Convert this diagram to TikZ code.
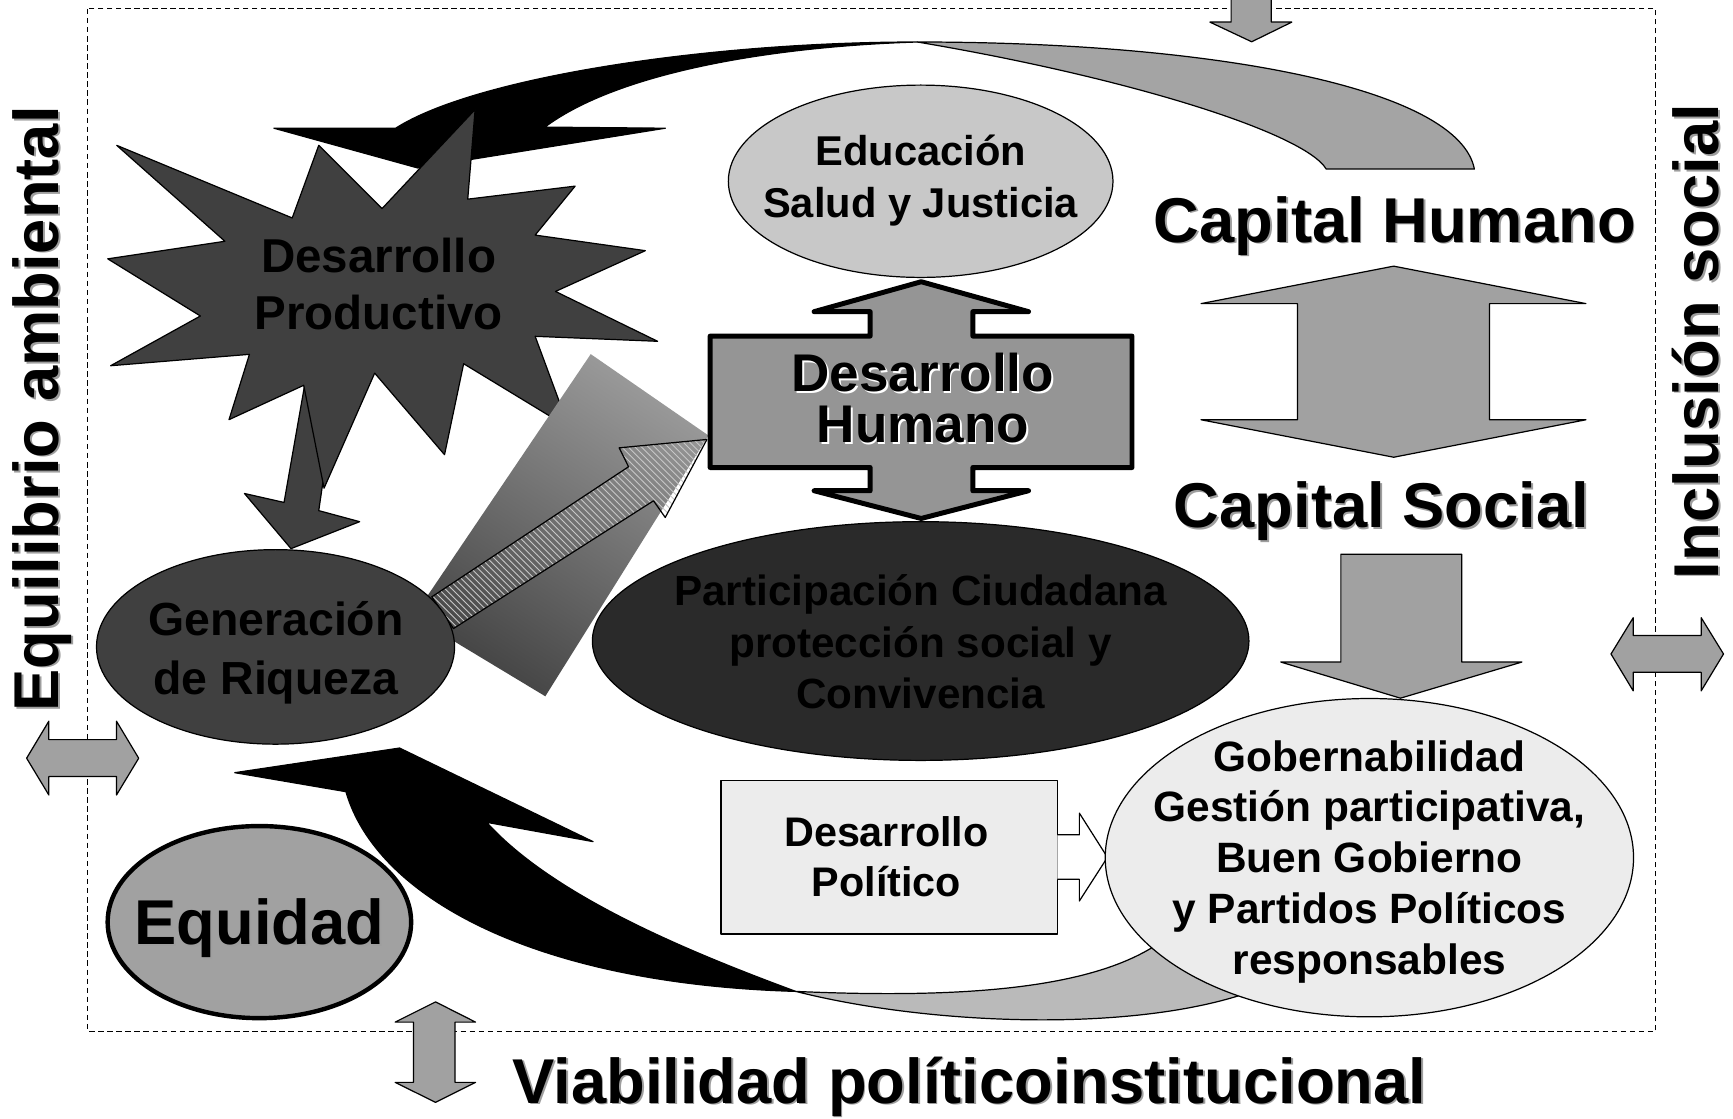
\documentclass[tikz,border=0pt]{standalone}
\usepackage{fontspec}
\setmainfont{Liberation Sans}
\usetikzlibrary{shapes.geometric,patterns}
\definecolor{stardark}{gray}{0.25}
\definecolor{partdark}{gray}{0.165}
\definecolor{edugray}{gray}{0.785}
\definecolor{dhgray}{gray}{0.585}
\definecolor{midgray}{gray}{0.63}
\definecolor{tailgray}{gray}{0.645}
\definecolor{tailgraylight}{gray}{0.73}
\definecolor{palegray}{gray}{0.925}
\definecolor{shadowgray}{gray}{0.62}
\definecolor{gradlight}{gray}{0.6}
\definecolor{graddark}{gray}{0.27}
\newcommand\fntBig{\fontsize{28.65pt}{30pt}\selectfont\bfseries}
\newcommand\fntEdu{\fontsize{18.85pt}{20pt}\selectfont\bfseries}
\newcommand\fntDP{\fontsize{21.5pt}{23pt}\selectfont\bfseries}
\newcommand\fntDH{\fontsize{24pt}{25pt}\selectfont\bfseries}
\newcommand\fntGR{\fontsize{21pt}{23pt}\selectfont\bfseries}
\newcommand\fntPC{\fontsize{19.1pt}{21pt}\selectfont\bfseries}
\newcommand\fntPol{\fontsize{18.7pt}{20pt}\selectfont\bfseries}
\newcommand\fntGob{\fontsize{19.2pt}{21pt}\selectfont\bfseries}
\begin{document}
\begin{tikzpicture}[x=0.5pt,y=-0.5pt,line join=round,
  outl/.style={draw=black,line width=0.55pt},
  txt/.style={inner sep=0pt,outer sep=0pt,anchor=base,text=black},
  shad/.style={inner sep=0pt,outer sep=0pt,anchor=base,text=shadowgray},
  wshad/.style={inner sep=0pt,outer sep=0pt,anchor=base,text=white},
  ellnode/.style={ellipse,inner sep=0pt,outer sep=0pt},
  garrow/.style={fill=midgray,draw=black,line width=0.55pt}]
\useasboundingbox (0,0) rectangle (1568,1012);

% dashed frame
\draw[line width=0.5pt,dash pattern=on 2.5pt off 1.6pt] (79.5,8) rectangle (1498,933.5);

% top arrow entering the frame
\draw[garrow] (1113.9,-5) -- (1150.2,-5) -- (1150.2,20) -- (1168.8,20) -- (1132.5,37.8) -- (1094.7,20) -- (1113.9,20) -- cycle;

% top curved arrow: gray tail and black head
\draw[outl,fill=tailgray] (830,38) .. controls (1100,38) and (1320,80) .. (1334,153) -- (1200,153) .. controls (1180,120) and (1020,70) .. (830,38) -- cycle;
\draw[outl,fill=black] (247.8,116) -- (358,116) .. controls (430,70) and (640,38) .. (830,38) .. controls (700,42) and (560,65) .. (493,115) -- (602,116) -- (378,152) -- cycle;

% arrow from star to Generacion
\draw[outl,fill=stardark] (278,335) -- (257,454.6) -- (221.2,446.5) -- (263.3,496.4) -- (325.4,472) -- (288.4,462) -- (307,335) -- cycle;

% star Desarrollo Productivo
\draw[outl,fill=stardark] (429.9,99) -- (423.2,180.2) -- (520.4,168.4) -- (484.2,212.7) -- (583.9,226.8) -- (502.6,263.7) -- (595,308.8) -- (484.2,304.3) -- (514.8,387) -- (419.5,329.1) -- (402.2,411.4) -- (339,337.6) -- (293.2,441.7) -- (274.8,348.6) -- (207.2,379.7) -- (225.7,320.6) -- (100.1,330.9) -- (181.3,285.9) -- (97.5,234.2) -- (203.5,218.3) -- (105.6,131.5) -- (264.4,197.2) -- (288.4,131.5) -- (345.7,188.7) -- cycle;
\node[txt,font=\fntDP] (dp1) at (342.6,246.7) {Desarrollo};
\node[txt,font=\fntDP] (dp2) at (342.6,298.4) {Productivo};

% gradient band and arrow to Desarrollo Humano
\shade[top color=gradlight,bottom color=graddark,shading angle=-33] (534.5,320.4) -- (641,394) -- (493.4,630) -- (374,558) -- cycle;
\draw[outl,pattern=north west lines,pattern color=black!22] (390.7,540) -- (568.7,422.3) -- (560.2,405.2) -- (639.6,397.6) -- (601.9,468.2) -- (591.3,453.1) -- (410.3,568.7) -- cycle;

% Generacion de Riqueza
\node[ellnode,outl,fill=stardark,minimum width=162pt,minimum height=88pt] (gen) at (249.3,585.3) {};
\node[txt,font=\fntGR] (gen1) at (249.7,575.4) {Generación};
\node[txt,font=\fntGR] (gen2) at (249.7,628.2) {de Riqueza};

% Educacion
\node[ellnode,outl,fill=edugray,minimum width=174pt,minimum height=87pt] (edu) at (833,164) {};
\node[txt,font=\fntEdu] (edu1) at (833,149.7) {Educación};
\node[txt,font=\fntEdu] (edu2) at (833,196.7) {Salud y Justicia};

% Desarrollo Humano box with double arrow
\draw[draw=black,line width=2.25pt,fill=dhgray] (642.5,304.1) -- (787.3,304.1) -- (787.3,282) -- (736.6,282) -- (833.5,254.9) -- (930.6,282) -- (880.2,282) -- (880.2,304.1) -- (1024.2,304.1) -- (1024.2,423) -- (880.2,423) -- (880.2,444) -- (930.6,444) -- (833.5,469.1) -- (736.6,444) -- (787.3,444) -- (787.3,423) -- (642.5,423) -- cycle;
\node[wshad,font=\fntDH] (dh1s) at (836.6,356) {Desarrollo};
\node[wshad,font=\fntDH] (dh2s) at (836.6,402.1) {Humano};
\node[txt,font=\fntDH] (dh1) at (835,354.5) {Desarrollo};
\node[txt,font=\fntDH] (dh2) at (835,400.6) {Humano};

% Participacion
\node[ellnode,outl,fill=partdark,minimum width=297pt,minimum height=108pt] (par) at (833,580) {};
\node[txt,font=\fntPC] (par1) at (833,548) {Participación Ciudadana};
\node[txt,font=\fntPC] (par2) at (833,594.5) {protección social y};
\node[txt,font=\fntPC] (par3) at (833,641) {Convivencia};

% bottom curved arrow: black head and gray tail
\draw[outl,fill=tailgraylight] (720,897) .. controls (850,930) and (1050,935) .. (1150,890) -- (1070,835) .. controls (1020,890) and (900,905) .. (720,897) -- cycle;
\draw[outl,fill=black] (313,716.3) -- (212.4,699.1) -- (361.5,676.8) -- (536.6,761.5) -- (440.3,744) .. controls (500,810) and (620,860) .. (720,897) .. controls (480,890) and (340,810) .. (313,716.3) -- cycle;

% Desarrollo Politico
\node[rectangle,outl,fill=palegray,minimum width=152.1pt,minimum height=69.5pt,inner sep=0pt] (pol) at (804.5,775.5) {};
\node[txt,font=\fntPol] (pol1) at (802,766) {Desarrollo};
\node[txt,font=\fntPol] (pol2) at (802,811.4) {Político};
\draw[outl,fill=white] (956.6,755.3) -- (976.6,755.3) -- (976.6,735.7) -- (1002,775.7) -- (976.6,815.2) -- (976.6,795.6) -- (956.6,795.6);

% Gobernabilidad
\node[ellnode,outl,fill=palegray,minimum width=239pt,minimum height=144pt] (gob) at (1239,776) {};
\node[txt,font=\fntGob] (gob1) at (1239,697.6) {Gobernabilidad};
\node[txt,font=\fntGob] (gob2) at (1239,743.6) {Gestión participativa,};
\node[txt,font=\fntGob] (gob3) at (1239,789.6) {Buen Gobierno};
\node[txt,font=\fntGob] (gob4) at (1239,835.6) {y Partidos Políticos};
\node[txt,font=\fntGob] (gob5) at (1239,881.6) {responsables};

% Equidad
\node[ellnode,draw=black,line width=2pt,fill=midgray,minimum width=137.3pt,minimum height=86.9pt] (equ) at (234.7,834.3) {};
\node[shad,font=\fntBig] (equ-s) at (236.2,856.1) {Equidad};
\node[txt,font=\fntBig] (equ-t) at (234.7,854.6) {Equidad};

% Capital arrows
\draw[garrow] (1261,240.8) -- (1434.9,274.7) -- (1347.7,274.7) -- (1347.7,379.8) -- (1434.9,379.8) -- (1261,413.7) -- (1086.7,379.8) -- (1173.9,379.8) -- (1173.9,274.7) -- (1086.7,274.7) -- cycle;
\draw[garrow] (1213.2,501.4) -- (1322.5,501.4) -- (1322.5,599) -- (1377,599) -- (1267.1,631.7) -- (1158.8,599) -- (1213.2,599) -- cycle;

% small double arrows
\draw[garrow] (24.1,686) -- (44.2,652.5) -- (44.2,669.2) -- (105.4,669.2) -- (105.4,652.5) -- (125.5,686) -- (105.4,719.3) -- (105.4,702.6) -- (44.2,702.6) -- (44.2,719.3) -- cycle;
\draw[garrow] (1457.6,591.7) -- (1477.7,558.9) -- (1477.7,574.9) -- (1539.2,574.9) -- (1539.2,558.9) -- (1559.4,591.7) -- (1539.2,625.1) -- (1539.2,608.3) -- (1477.7,608.3) -- (1477.7,625.1) -- cycle;
\draw[garrow] (394.1,906.5) -- (430.3,924.8) -- (411.7,924.8) -- (411.7,979.3) -- (430.3,979.3) -- (394.1,997.4) -- (357.5,979.3) -- (374.1,979.3) -- (374.1,924.8) -- (357.5,924.8) -- cycle;

% big labels
\node[shad,font=\fntBig] (ch-s) at (1263.5,220.5) {Capital Humano};
\node[txt,font=\fntBig] (ch) at (1262,219) {Capital Humano};
\node[shad,font=\fntBig] (cs-s) at (1251.5,479.2) {Capital Social};
\node[txt,font=\fntBig] (cs) at (1250,477.7) {Capital Social};
\node[shad,font=\fntBig] (via-s) at (878.5,999.5) {Viabilidad políticoinstitucional};
\node[txt,font=\fntBig] (via) at (877,998) {Viabilidad políticoinstitucional};
\node[shad,font=\fntBig,rotate=90] (amb-s) at (54.5,371.5) {Equilibrio ambiental};
\node[txt,font=\fntBig,rotate=90] (amb) at (53,370) {Equilibrio ambiental};
\node[shad,font=\fntBig,rotate=90] (inc-s) at (1556.5,310.5) {Inclusión social};
\node[txt,font=\fntBig,rotate=90] (inc) at (1555,309) {Inclusión social};
\end{tikzpicture}
\end{document}
